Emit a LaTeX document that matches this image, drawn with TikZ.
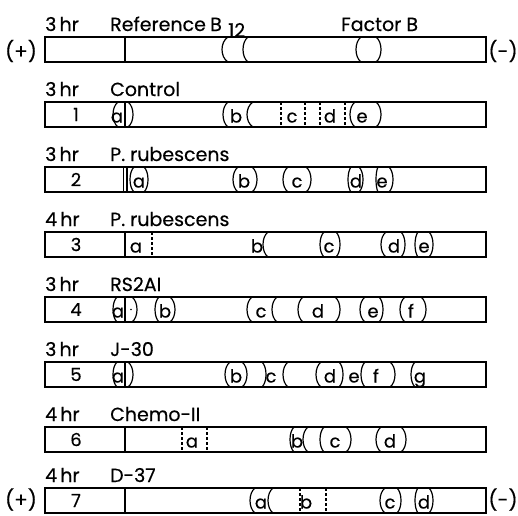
\documentclass[tikz,border=0pt]{standalone}
\usepackage{fontspec}
\setmainfont{Poppins}[FakeBold=0.4]
\tikzset{
  bar/.style={line width=1.3pt},
  band/.style={line width=1.2pt},
  dsh/.style={line width=1.2pt, dash pattern=on 3pt off 2pt},
  lbl/.style={font=\fontsize{19}{19}\selectfont, anchor=base west, inner sep=0pt},
  bl/.style={font=\fontsize{18}{18}\selectfont, anchor=base, inner sep=0pt},
  num/.style={font=\fontsize{18}{18}\selectfont, inner sep=0pt},
  pm/.style={font=\fontsize{20}{20}\selectfont, inner sep=0pt},
}
% arc through the bar: mid x, end x, bar top
\newcommand\BArc[3]{\draw[band] (#2,#3) .. controls ({(4*#1-#2)/3},{#3+5}) and ({(4*#1-#2)/3},{#3+20}) .. (#2,{#3+25});}
\newcommand\Lp[3]{\BArc{#1}{#2}{#3}}
\newcommand\Rp[3]{\BArc{#2}{#1}{#3}}
\newcommand\Dv[2]{\draw[dsh] (#1,#2) -- (#1,{#2+25});}
\newcommand\Sv[2]{\draw[band] (#1,#2) -- (#1,{#2+25});}
\newcommand\Lt[3]{\node[bl] (lt-#3-#1) at (#1,{#3+20.5}) {#2};}
\newcommand\Bar[1]{\draw[bar] (45,#1) rectangle (486,{#1+25});}
\newcommand\Num[2]{\node[num] (n-#2) at (76,{#2+12.5}) {#1};}
\newcommand\Hd[3]{\node[lbl] (h-#3) at (45,{#3-6}) {#1};\node[lbl] (nm-#3) at (110,{#3-6}) {#2};}
\begin{document}
\begin{tikzpicture}[x=1pt,y=-1pt]
\useasboundingbox (0,0) rectangle (518,515);
% ---------- reference
\Bar{37}
\Hd{3\,hr}{Reference}{37}
\node[lbl] (bB) at (210,31) {B};
\node[lbl] (b12) at (228,37) {12};
\node[lbl] (fB) at (341,31) {Factor B};
\Sv{125}{37}
\Lp{222}{228}{37}\Lp{243}{248}{37}
\Lp{356}{361}{37}\Rp{376}{381}{37}
\node[pm] (p1) at (21,51) {(+)};
\node[pm] (m1) at (503,51) {(-)};
% ---------- row 1
\Bar{102}\Hd{3\,hr}{Control}{102}\Num{1}{102}
\Lp{113}{118}{102}\Lt{117}{a}{102}\Sv{125}{102}\Rp{128}{133}{102}
\Lp{223}{228}{102}\Lt{236}{b}{102}\Lp{247}{253}{102}
\Dv{281}{102}\Lt{292}{c}{102}\Dv{305}{102}
\Dv{320}{102}\Lt{330}{d}{102}\Dv{345}{102}
\Lp{350}{355}{102}\Lt{362}{e}{102}\Rp{376}{381}{102}
% ---------- row 2
\Bar{167}\Hd{3\,hr}{P. rubescens}{167}\Num{2}{167}
\Sv{123.5}{167}\Sv{127}{167}
\Lp{130}{134}{167}\Lt{139}{a}{167}\Rp{144}{148}{167}
\Lp{233}{238}{167}\Lt{244}{b}{167}\Rp{252}{257}{167}
\Lp{283}{288}{167}\Lt{297}{c}{167}\Rp{306}{311}{167}
\Lp{348}{351}{167}\Lt{356}{d}{167}\Rp{359}{363}{167}
\Lp{376}{378}{167}\Lt{382}{e}{167}\Rp{389}{393}{167}
% ---------- row 3
\Bar{232}\Hd{4\,hr}{P. rubescens}{232}\Num{3}{232}
\Sv{125}{232}\Lt{136}{a}{232}\Dv{152}{232}
\Lt{257}{b}{232}\Lp{263}{268}{232}
\Lp{320}{324}{232}\Lt{329}{c}{232}\Rp{336}{340}{232}
\Lp{381}{386}{232}\Lt{394}{d}{232}\Rp{401}{405}{232}
\Lp{415}{418}{232}\Lt{424}{e}{232}\Rp{429}{433}{232}
% ---------- row 4
\Bar{297}\Hd{3\,hr}{RS2AI}{297}\Num{4}{297}
\Lp{113}{117}{297}\Lt{118}{a}{297}\Sv{125}{297}
\fill (131,309.5) circle (0.8);
\Rp{132}{137}{297}
\Lp{155}{159}{297}\Lt{165}{b}{297}\Rp{170}{175}{297}
\Lp{247}{252}{297}\Lt{261}{c}{297}\Lp{272}{277}{297}
\Lp{298}{303}{297}\Lt{318}{d}{297}\Rp{335}{340}{297}
\Lp{360}{365}{297}\Lt{373}{e}{297}\Rp{379}{383}{297}
\Lp{400}{405}{297}\Lt{411}{f}{297}\Rp{421}{426}{297}
% ---------- row 5
\Bar{362}\Hd{3\,hr}{J-30}{362}\Num{5}{362}
\Lp{113}{117}{362}\Lt{118}{a}{362}\Sv{125}{362}\Rp{128}{133}{362}
\Lp{225}{230}{362}\Lt{236}{b}{362}\Rp{242}{247}{362}
\Rp{262}{266}{362}\Lt{271}{c}{362}\Lp{283}{288}{362}
\Lp{316}{321}{362}\Lt{330}{d}{362}\Rp{339}{343}{362}
\Lt{354}{e}{362}\Lp{361}{365}{362}\Lt{376}{f}{362}\Rp{390}{395}{362}
\Lp{411}{415}{362}\Lt{420}{g}{362}
% ---------- row 6
\Bar{427}\Hd{4\,hr}{Chemo-II}{427}\Num{6}{427}
\Sv{125}{427}\Dv{182}{427}\Lt{192}{a}{427}\Dv{207}{427}
\Lp{290}{294}{427}\Lt{297}{b}{427}\Lp{303}{308}{427}
\Lp{320}{324}{427}\Lt{335}{c}{427}\Rp{346}{351}{427}
\Lp{376}{381}{427}\Lt{390}{d}{427}\Rp{401}{406}{427}
% ---------- row 7
\Bar{488}\Hd{4\,hr}{D-37}{488}\Num{7}{488}
\Sv{125}{488}
\Lp{250}{255}{488}\Lt{261}{a}{488}\Lp{268}{273}{488}
\Dv{300}{488}\Lt{306}{b}{488}\Dv{326}{488}
\Lp{380}{385}{488}\Lt{390}{c}{488}\Rp{397}{401}{488}
\Lp{415}{418}{488}\Lt{424}{d}{488}\Rp{429}{433}{488}
\node[pm] (p2) at (21,499.5) {(+)};
\node[pm] (m2) at (503,499.5) {(-)};
\end{tikzpicture}
\end{document}
